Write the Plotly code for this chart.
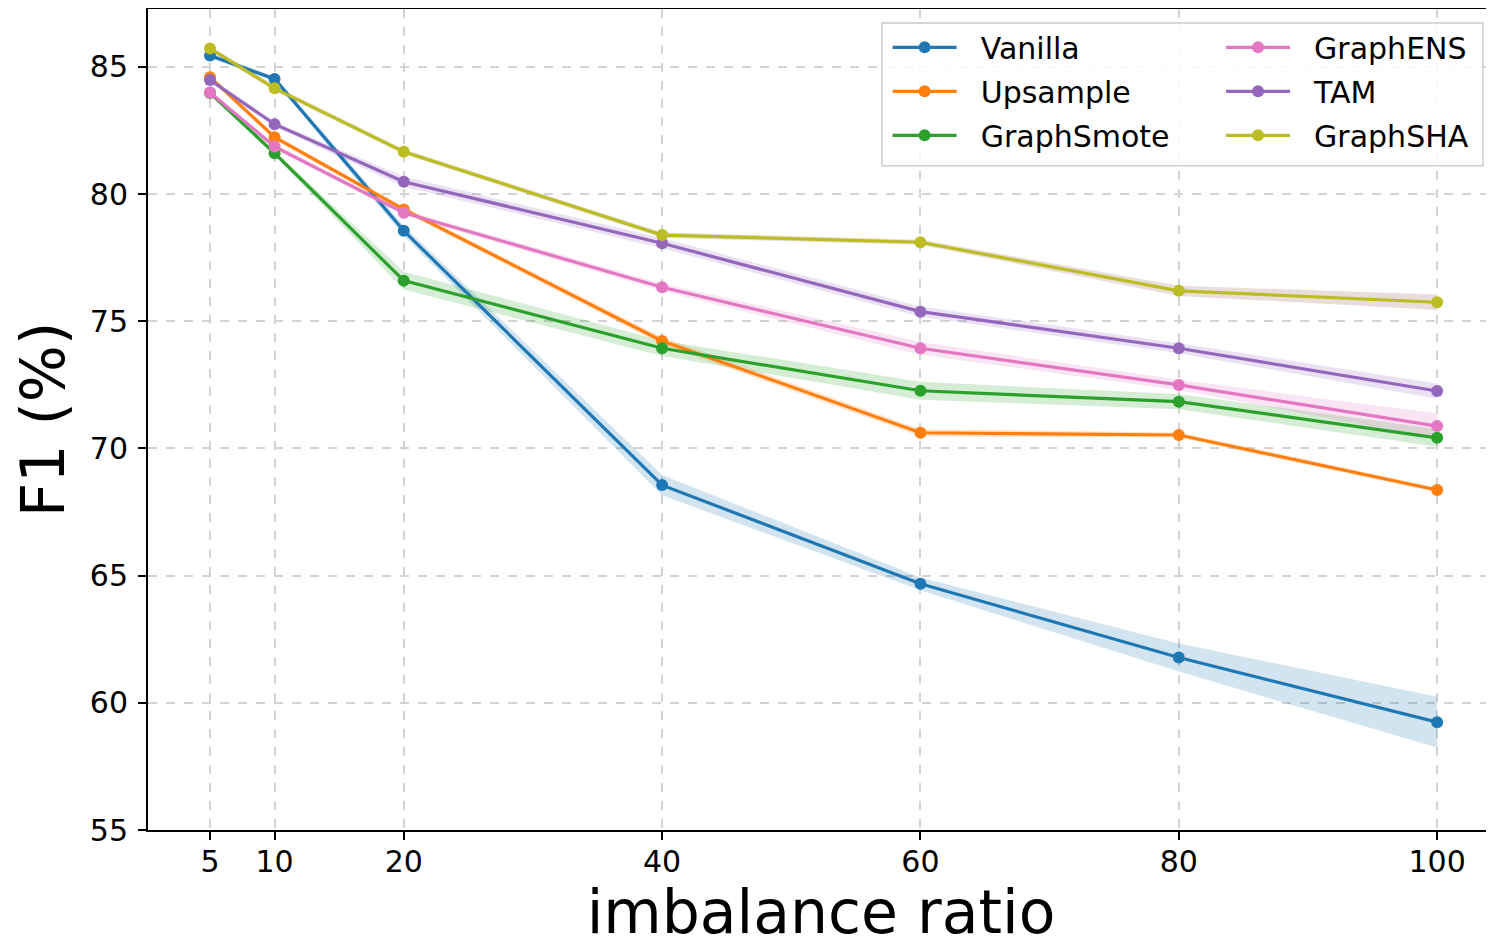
import plotly.graph_objects as go

ratios = [5, 10, 20, 40, 60, 80, 100]
methods = ["Vanilla", "Upsample", "GraphSmote", "GraphENS", "TAM", "GraphSHA"]

vanilla = [85.45, 84.53, 78.56, 68.56, 64.68, 61.78, 59.24]
upsample = [84.60, 82.24, 79.40, 74.23, 70.62, 70.53, 68.37]
graphsmote = [83.98, 81.61, 76.60, 73.94, 72.27, 71.84, 70.42]
graphens = [84.00, 81.87, 79.27, 76.34, 73.94, 72.50, 70.88]
tam = [84.49, 82.75, 80.49, 78.07, 75.38, 73.94, 72.26]
graphsha = [85.73, 84.16, 81.67, 78.39, 78.11, 76.20, 75.75]

vanilla_std = [0.10, 0.10, 0.20, 0.40, 0.25, 0.55, 1.00]
upsample_std = [0.10, 0.10, 0.10, 0.15, 0.15, 0.10, 0.10]
graphsmote_std = [0.10, 0.10, 0.35, 0.30, 0.35, 0.30, 0.35]
graphens_std = [0.10, 0.10, 0.10, 0.15, 0.25, 0.20, 0.50]
tam_std = [0.10, 0.10, 0.20, 0.20, 0.20, 0.20, 0.30]
graphsha_std = [0.10, 0.10, 0.10, 0.10, 0.10, 0.20, 0.30]

means = [vanilla, upsample, graphsmote, graphens, tam, graphsha]
stds = [vanilla_std, upsample_std, graphsmote_std, graphens_std, tam_std, graphsha_std]
line_colors = ["#1f77b4", "#ff7f0e", "#2ca02c", "#e377c2", "#9467bd", "#bcbd22"]
band_colors = ["rgba(31,119,180,0.2)", "rgba(255,127,14,0.2)", "rgba(44,160,44,0.2)",
               "rgba(227,119,194,0.2)", "rgba(148,103,189,0.2)", "rgba(140,86,75,0.2)"]
legend_ids = ["legend", "legend", "legend", "legend2", "legend2", "legend2"]

fig = go.Figure()

for m, s, bc in zip(means, stds, band_colors):
    upper = [a + b for a, b in zip(m, s)]
    lower = [a - b for a, b in zip(m, s)]
    fig.add_trace(go.Scatter(
        x=ratios + ratios[::-1], y=upper + lower[::-1],
        fill="toself", fillcolor=bc, line=dict(width=0),
        mode="lines", showlegend=False, hoverinfo="skip"))

for name, m, lc, lg in zip(methods, means, line_colors, legend_ids):
    fig.add_trace(go.Scatter(
        x=ratios, y=m, name="\u00a0\u00a0" + name, mode="lines+markers",
        line=dict(color=lc, width=3.2), marker=dict(color=lc, size=12),
        legend=lg, legendgroup=name))

# legend frame (one box around both legend columns)
fig.add_shape(type="rect", xref="paper", yref="paper",
              x0=0.5453, x1=0.9918, y0=0.809, y1=0.983,
              fillcolor="rgba(255,255,255,0.85)", line=dict(color="#cccccc", width=1.5),
              layer="above")

axis_font = dict(family="DejaVu Sans", size=30, color="black")
leg_common = dict(
    orientation="v", yanchor="top", xanchor="left",
    font=dict(family="DejaVu Sans", size=30, color="black"),
    bgcolor="rgba(0,0,0,0)", borderwidth=0, itemwidth=64, tracegroupgap=2,
)

fig.update_layout(
    width=1486, height=939,
    margin=dict(l=140, r=0, t=1, b=117),
    paper_bgcolor="white", plot_bgcolor="white",
    font=dict(family="DejaVu Sans", color="black"),
    showlegend=True,
    legend=dict(x=0.5495, y=0.985, **leg_common),
    legend2=dict(x=0.7972, y=0.985, **leg_common),
    xaxis=dict(
        range=[0.2, 104.4], tickvals=ratios, ticktext=[str(r) for r in ratios],
        showline=True, linecolor="black", linewidth=2, mirror=True,
        ticks="outside", ticklen=8, tickwidth=1.5, tickcolor="black",
        tickfont=axis_font, ticklabelstandoff=-4,
        showgrid=True, gridcolor="#d3d3d3", gridwidth=1.5, griddash="dash",
        zeroline=False,
        title=dict(text="imbalance ratio", font=dict(family="DejaVu Sans", size=60, color="black"), standoff=22),
    ),
    yaxis=dict(
        range=[55, 87.28], dtick=5, tick0=55,
        showline=True, linecolor="black", linewidth=2,
        ticks="outside", ticklen=8, tickwidth=1.5, tickcolor="black",
        tickfont=axis_font, ticklabelstandoff=4,
        showgrid=True, gridcolor="#d3d3d3", gridwidth=1.5, griddash="dash",
        zeroline=False,
        title=dict(text="F1 (%)", font=dict(family="DejaVu Sans", size=60, color="black"), standoff=10),
    ),
)

fig.write_html("out.html")
